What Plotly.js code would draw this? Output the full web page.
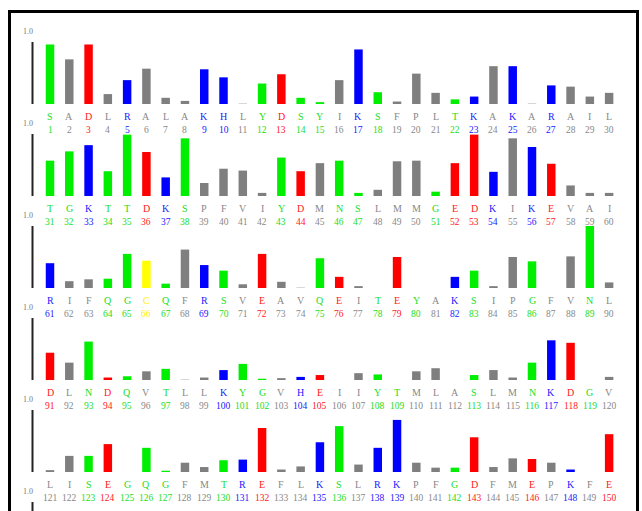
<!DOCTYPE html>
<html>
<head>
<meta charset="utf-8">
<script src="https://cdn.plot.ly/plotly-3.0.1.min.js"></script>
<style>html,body{margin:0;padding:0;background:#fff;}#chart{width:642px;height:511px;}</style>
</head>
<body>
<div id="chart"></div>
<script>
// Residues per row (30 per row)
const residues1 = ["S","A","D","L","R","A","L","A","K","H","L","Y","D","S","Y","I","K","S","F","P","L","T","K","A","K","A","R","A","I","L"];
const residues2 = ["T","G","K","T","T","D","K","S","P","F","V","I","Y","D","M","N","S","L","M","M","G","E","D","K","I","K","E","V","A","I"];
const residues3 = ["R","I","F","Q","G","C","Q","F","R","S","V","E","A","V","Q","E","I","T","E","Y","A","K","S","I","P","G","F","V","N","L"];
const residues4 = ["D","L","N","D","Q","V","T","L","L","K","Y","G","V","H","E","I","I","Y","T","M","L","A","S","L","M","N","K","D","G","V"];
const residues5 = ["L","I","S","E","G","Q","G","F","M","T","R","E","F","L","K","S","L","R","K","P","F","G","D","F","M","E","P","K","F","E"];

// Values per row (0..1)
const values1 = [0.96,0.72,0.96,0.16,0.385,0.57,0.10,0.05,0.56,0.43,0.005,0.33,0.48,0.10,0.03,0.385,0.88,0.19,0.04,0.49,0.18,0.075,0.12,0.61,0.61,0.005,0.30,0.28,0.12,0.18];
const values2 = [0.57,0.72,0.82,0.40,0.99,0.71,0.30,0.93,0.21,0.44,0.41,0.05,0.62,0.40,0.53,0.57,0.05,0.10,0.56,0.57,0.07,0.53,0.99,0.39,0.93,0.79,0.52,0.17,0.05,0.05];
const values3 = [0.40,0.11,0.14,0.15,0.55,0.44,0.07,0.62,0.37,0.28,0.06,0.55,0.10,0.005,0.48,0.18,0.03,0,0.50,0,0,0.18,0.28,0.03,0.50,0.43,0,0.51,1.0,0.09];
const values4 = [0.44,0.28,0.62,0.04,0.06,0.14,0.18,0.005,0.04,0.16,0.26,0.02,0.03,0.05,0.08,0,0.11,0.09,0,0.14,0.19,0,0.08,0.16,0.04,0.28,0.64,0.60,0,0.05];
const values5 = [0.03,0.26,0.26,0.45,0,0.39,0.02,0.15,0.08,0.19,0.20,0.71,0.04,0.09,0.48,0.74,0.12,0.39,0.84,0.15,0.07,0.07,0.56,0.08,0.22,0.21,0.15,0.04,0,0.61];

const rowStarts = [1, 31, 61, 91, 121];
const axisTopLabel = "1.0";

const greenSet = "STYNQG", redSet = "DE", blueSet = "KRH", yellowSet = "C";
function colorOf(r){
  if (greenSet.includes(r)) return "#00ee00";
  if (redSet.includes(r)) return "#ff0000";
  if (blueSet.includes(r)) return "#0000ff";
  if (yellowSet.includes(r)) return "#ffff00";
  return "#7f7f7f";
}
function textColorOf(r){
  if (greenSet.includes(r)) return "#22dd22";
  if (redSet.includes(r)) return "#ff2020";
  if (blueSet.includes(r)) return "#2020ff";
  if (yellowSet.includes(r)) return "#ffee00";
  return "#888888";
}

const W = 642, H = 511;
const rows = [
  {res: residues1, val: values1},
  {res: residues2, val: values2},
  {res: residues3, val: values3},
  {res: residues4, val: values4},
  {res: residues5, val: values5}
];

const spacing = 19.28, firstX = 50;
const xr0 = -firstX/spacing, xr1 = xr0 + W/spacing;
const baseline0 = 104, rowGap = 92, unitPx = 62;

const data = [], annotations = [], shapes = [];
const layout = {
  width: W, height: H,
  margin: {l:0, r:0, t:0, b:0},
  paper_bgcolor: "#ffffff", plot_bgcolor: "rgba(0,0,0,0)",
  showlegend: false,
  bargap: 0.56
};
const py = p => (H - p)/H;

rows.forEach((row, k) => {
  const s = k === 0 ? "" : String(k+1);
  const xa = "x" + s, ya = "y" + s;
  const base = baseline0 + rowGap*k;
  const idx = row.val.map((_, i) => i);
  data.push({
    type: "bar", x: idx, y: row.val, xaxis: xa, yaxis: ya,
    marker: {color: row.res.map(colorOf), line: {width: 0}},
    width: 0.44, hoverinfo: "skip"
  });
  layout["xaxis" + s] = {domain: [0,1], range: [xr0, xr1], anchor: ya, visible: false, fixedrange: true};
  layout["yaxis" + s] = {domain: [py(base), py(base - unitPx)], range: [0,1], anchor: xa, visible: false, fixedrange: true};
  row.res.forEach((r, i) => {
    annotations.push({x: i, xref: xa, y: py(base + 12), yref: "paper", text: r, showarrow: false,
      xanchor: "center", yanchor: "middle", font: {family: "Liberation Serif", size: 10, color: textColorOf(r)}});
    annotations.push({x: i, xref: xa, y: py(base + 26), yref: "paper", text: String(rowStarts[k] + i), showarrow: false,
      xanchor: "center", yanchor: "middle", font: {family: "Liberation Serif", size: 9.5, color: textColorOf(r)}});
  });
});

// axis lines and "1.0" labels (including the partially visible next row)
for (let k = 0; k < 6; k++) {
  const base = baseline0 + rowGap*k;
  shapes.push({type: "line", xref: "paper", yref: "paper", x0: 32.5/W, x1: 32.5/W, y0: py(base), y1: py(base - unitPx),
    line: {color: "#222222", width: 2}});
  annotations.push({x: 28/W, xref: "paper", y: py(base - 73), yref: "paper", text: axisTopLabel, showarrow: false,
    xanchor: "center", yanchor: "middle", font: {family: "Liberation Serif", size: 8, color: "#777777"}});
}

// frame
shapes.push({type: "rect", xref: "paper", yref: "paper", x0: 9.5/W, x1: 637.5/W, y0: -0.2, y1: py(11.5),
  line: {color: "#000000", width: 3}, fillcolor: "rgba(0,0,0,0)"});

layout.annotations = annotations;
layout.shapes = shapes;

Plotly.newPlot("chart", data, layout, {displayModeBar: false, staticPlot: true});
</script>
</body>
</html>
